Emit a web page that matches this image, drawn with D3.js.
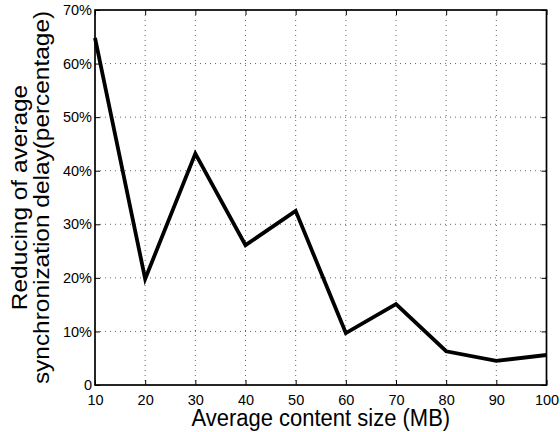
<!DOCTYPE html>
<html>
<head>
<meta charset="utf-8">
<script src="https://cdn.jsdelivr.net/npm/d3@7"></script>
<style>
  body { margin: 0; background: #fff; }
  text { font-family: Arial, "Liberation Sans", sans-serif; fill: #000; }
</style>
</head>
<body>
<script>
// data
var sizes = [10, 20, 30, 40, 50, 60, 70, 80, 90, 100];
var reduction = [64.8, 19.8, 43.2, 26.1, 32.5, 9.7, 15.1, 6.3, 4.5, 5.6];
var xTicks = [10, 20, 30, 40, 50, 60, 70, 80, 90, 100];
var yTicks = [0, 10, 20, 30, 40, 50, 60, 70];

var margin = { top: 10, right: 13.5, bottom: 47, left: 95 },
  width = 560 - margin.left - margin.right,
  height = 432 - margin.top - margin.bottom;

var root = d3.select("body").append("svg")
    .attr("width", 560)
    .attr("height", 432);
var svg = root.append("g")
    .attr("transform", "translate(" + margin.left + "," + margin.top + ")");

var x = d3.scaleLinear().domain([10, 100]).range([0, width]);
var y = d3.scaleLinear().domain([0, 70]).range([height, 0]);

// dotted grid
svg.selectAll(".gx").data(xTicks.slice(1, -1)).enter().append("line")
  .attr("x1", function(d) { return x(d); })
  .attr("x2", function(d) { return x(d); })
  .attr("y1", 0).attr("y2", height)
  .attr("stroke", "#666").attr("stroke-width", 1)
  .attr("stroke-dasharray", "1,4");
svg.selectAll(".gy").data(yTicks.slice(1, -1)).enter().append("line")
  .attr("y1", function(d) { return y(d); })
  .attr("y2", function(d) { return y(d); })
  .attr("x1", 0).attr("x2", width)
  .attr("stroke", "#666").attr("stroke-width", 1)
  .attr("stroke-dasharray", "1,4");

// axes, ticks inward
var xAxis = d3.axisBottom(x).tickValues(xTicks).tickSizeInner(-5).tickSizeOuter(0).tickPadding(10);
var yAxis = d3.axisLeft(y).tickValues(yTicks).tickSizeInner(-5).tickSizeOuter(0).tickPadding(3)
  .tickFormat(function(d) { return d === 0 ? "0" : d + "%"; });

var gx = svg.append("g").attr("transform", "translate(0," + height + ")").call(xAxis);
var gy = svg.append("g").call(yAxis);
[gx, gy].forEach(function(g) {
  g.select(".domain").remove();
  g.selectAll("text").style("font-size", "14.5px");
  g.selectAll("line").attr("stroke", "#000");
});

// mirrored ticks on top and right
svg.append("g").call(d3.axisTop(x).tickValues(xTicks).tickSizeInner(-5).tickSizeOuter(0).tickFormat(""))
  .call(function(g) { g.select(".domain").remove(); });
svg.append("g").attr("transform", "translate(" + width + ",0)")
  .call(d3.axisRight(y).tickValues(yTicks).tickSizeInner(-5).tickSizeOuter(0).tickFormat(""))
  .call(function(g) { g.select(".domain").remove(); });

// frame
svg.append("rect")
  .attr("width", width).attr("height", height)
  .attr("fill", "none").attr("stroke", "#000").attr("stroke-width", 1.7);

// line
var line = d3.line()
  .x(function(d, i) { return x(sizes[i]); })
  .y(function(d) { return y(d); });
svg.append("path")
  .datum(reduction)
  .attr("d", line)
  .attr("fill", "none")
  .attr("stroke", "#000")
  .attr("stroke-width", 3.8)
  .attr("stroke-linejoin", "miter");

// axis labels
root.append("text")
  .attr("transform", "translate(" + (margin.left + width / 2) + ",425.7) scale(1,1.11)")
  .attr("text-anchor", "middle")
  .style("font-size", "22px")
  .text("Average content size (MB)");

var yl = root.append("text")
  .attr("transform", "translate(0," + (margin.top + height / 2) + ") rotate(-90) scale(1.11,1)")
  .attr("text-anchor", "middle")
  .style("font-size", "22px");
yl.append("tspan").attr("x", 0).attr("y", 27).text("Reducing of average");
yl.append("tspan").attr("x", 0).attr("y", 49).text("synchronization delay(percentage)");
</script>
</body>
</html>
